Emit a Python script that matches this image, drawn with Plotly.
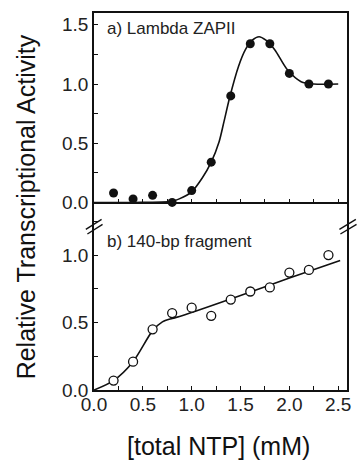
import plotly.graph_objects as go

# ---- data ----
ntp = [0.2, 0.4, 0.6, 0.8, 1.0, 1.2, 1.4, 1.6, 1.8, 2.0, 2.2, 2.4]
lambda_zapii = [0.08, 0.03, 0.06, 0.00, 0.10, 0.34, 0.90, 1.34, 1.34, 1.09, 1.00, 1.00]
frag_140bp = [0.07, 0.21, 0.45, 0.57, 0.61, 0.55, 0.67, 0.73, 0.76, 0.87, 0.89, 1.00]

# fitted curves (knots)
fit_a_x = [0.0, 0.4, 0.8, 0.873, 1.0, 1.108, 1.2, 1.28, 1.33, 1.39, 1.48, 1.55, 1.62, 1.69,
           1.76, 1.85, 1.98, 2.12, 2.25, 2.5]
fit_a_y = [0.0, 0.0, 0.01, 0.03, 0.09, 0.206, 0.34, 0.51, 0.68, 0.89, 1.15, 1.29, 1.37, 1.40,
           1.37, 1.29, 1.12, 1.02, 1.0, 1.0]
fit_b_x = [0.0, 0.2, 0.4, 0.6, 0.7, 0.8, 0.9, 1.5, 2.0, 2.52]
fit_b_y = [0.0, 0.07, 0.21, 0.44, 0.505, 0.53, 0.55, 0.70, 0.83, 0.96]

x_ticks = [0.0, 0.5, 1.0, 1.5, 2.0, 2.5]
x_ticktext = ["0.0", "0.5", "1.0", "1.5", "2.0", "2.5"]
ya_ticks = [0.0, 0.5, 1.0, 1.5]
ya_ticktext = ["0.0", "0.5", "1.0", "1.5"]
yb_ticks = [0.0, 0.5, 1.0]
yb_ticktext = ["0.0", "0.5", "1.0"]

label_a = "a) Lambda ZAPII"
label_b = "b) 140-bp fragment"
x_title = "[total NTP] (mM)"
y_title = "Relative Transcriptional Activity"

FONT = "Liberation Sans, Arial, Helvetica, sans-serif"
INK = "#111111"

fig = go.Figure()
fig.add_trace(go.Scatter(x=fit_a_x, y=fit_a_y, mode="lines", line=dict(color=INK, width=1.6, shape="spline", smoothing=0.8),
                         xaxis="x2", yaxis="y2", hoverinfo="skip"))
fig.add_trace(go.Scatter(x=ntp, y=lambda_zapii, mode="markers", cliponaxis=False,
                         marker=dict(symbol="circle", size=9, color=INK, line=dict(width=0)),
                         xaxis="x2", yaxis="y2"))
fig.add_trace(go.Scatter(x=fit_b_x, y=fit_b_y, mode="lines", line=dict(color=INK, width=1.6, shape="spline", smoothing=0.8),
                         xaxis="x", yaxis="y", hoverinfo="skip"))
fig.add_trace(go.Scatter(x=ntp, y=frag_140bp, mode="markers", cliponaxis=False,
                         marker=dict(symbol="circle", size=9, color="white", line=dict(width=1.3, color=INK)),
                         xaxis="x", yaxis="y"))

common_x = dict(range=[0, 2.59], showline=True, linecolor=INK, linewidth=1.6,
                ticks="inside", ticklen=4, tickwidth=1.2, tickcolor=INK,
                minor=dict(ticks="inside", tickvals=[0.25, 0.75, 1.25, 1.75, 2.25], ticklen=4, tickwidth=1.2, tickcolor=INK),
                showgrid=False, zeroline=False,
                tickfont=dict(family=FONT, size=19, color="#222222"))
common_y = dict(showline=True, linecolor=INK, linewidth=1.6, mirror=True,
                ticks="inside", ticklen=4, tickwidth=1.2, tickcolor=INK,
                showgrid=False, zeroline=False,
                tickfont=dict(family=FONT, size=19, color="#222222"))

fig.update_layout(
    width=361, height=463,
    margin=dict(l=94, r=10, t=13, b=73),
    paper_bgcolor="white", plot_bgcolor="white",
    showlegend=False,
    xaxis=dict(common_x, anchor="y", tickvals=x_ticks, ticktext=x_ticktext, domain=[0, 1], mirror=False,
               ticklabelstandoff=-4),
    xaxis2=dict(common_x, anchor="y2", matches="x", tickvals=x_ticks, showticklabels=False, mirror=True),
    yaxis=dict(common_y, anchor="x", domain=[0, 0.4975], range=[0, 1.39],
               tickvals=yb_ticks, ticktext=yb_ticktext,
               minor=dict(ticks="inside", tickvals=[0.25, 0.75, 1.25], ticklen=4, tickwidth=1.2, tickcolor=INK)),
    yaxis2=dict(common_y, anchor="x2", domain=[0.4975, 1], range=[0, 1.6],
                tickvals=ya_ticks, ticktext=ya_ticktext,
                minor=dict(ticks="inside", tickvals=[0.25, 0.75, 1.25], ticklen=4, tickwidth=1.2, tickcolor=INK)),
    annotations=[
        dict(text=label_a, xref="paper", yref="paper", x=0.043, y=0.960, xanchor="left", yanchor="middle",
             showarrow=False, font=dict(family=FONT, size=17, color="#222222")),
        dict(text=label_b, xref="paper", yref="paper", x=0.043, y=0.393, xanchor="left", yanchor="middle",
             showarrow=False, font=dict(family=FONT, size=17, color="#222222")),
        dict(text=x_title, xref="paper", yref="paper", x=0.494, y=-0.1485, xanchor="center", yanchor="middle",
             showarrow=False, font=dict(family=FONT, size=25, color="#111111")),
        dict(text=y_title, xref="paper", yref="paper", x=-0.268, y=0.485, xanchor="center", yanchor="middle",
             textangle=-90, showarrow=False, font=dict(family=FONT, size=25, color="#111111")),
    ],
)

# axis-break marks (decorations, in paper coordinates)
def px_to_paper(px, py):
    return (px - 94) / 257, (390 - py) / 377

breaks = [((85.7, 229.3), (101.7, 219.3)), ((87.3, 234.0), (102.7, 224.3)),
          ((343.3, 229.3), (360.0, 219.3)), ((344.3, 234.0), (360.7, 224.3))]
for (a, b) in breaks:
    x0, y0 = px_to_paper(*a)
    x1, y1 = px_to_paper(*b)
    fig.add_shape(type="line", xref="paper", yref="paper", x0=x0, y0=y0, x1=x1, y1=y1,
                  line=dict(color=INK, width=1.4))

fig.write_html("out.html", config={"displayModeBar": False},
               post_script="document.body.style.margin='0';document.body.style.overflow='hidden';")
